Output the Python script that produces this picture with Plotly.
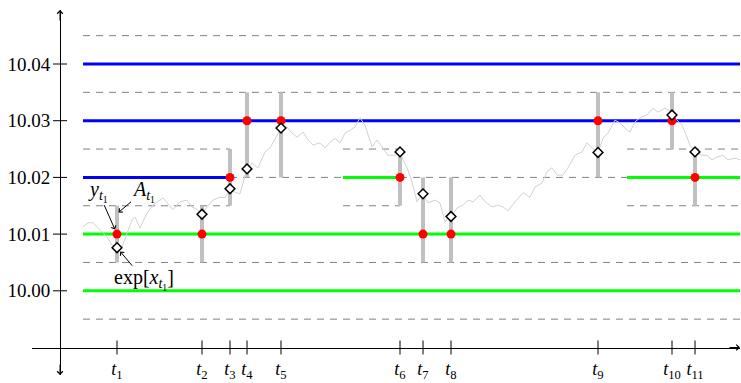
import plotly.graph_objects as go

# ---------------------------------------------------------------
# Data
# ---------------------------------------------------------------
# observation times t_1 ... t_11
t_obs = [5.7, 14.2, 17.0, 18.7, 22.1, 34.0, 36.3, 39.1, 53.8, 61.2, 63.5]
t_labels = [f"<i>t</i><sub>{k}</sub>" for k in range(1, 12)]

# observed (rounded) prices y_t
y_obs = [10.01, 10.01, 10.02, 10.03, 10.03, 10.02, 10.01, 10.01, 10.03, 10.03, 10.02]
# efficient price exp[x_t] at the observation times
exp_x = [10.0076, 10.0135, 10.0180, 10.0215, 10.0287, 10.0245, 10.0171, 10.0131,
         10.0244, 10.0310, 10.0245]
# uncertainty zones A_t (lower / upper bounds)
a_low = [10.005, 10.005, 10.015, 10.020, 10.020, 10.015, 10.005, 10.005, 10.020, 10.025, 10.015]
a_high = [10.015, 10.015, 10.025, 10.035, 10.035, 10.025, 10.020, 10.020, 10.035, 10.035, 10.025]

# efficient price path
walk_t = [2.3, 2.8, 3.3, 4.0, 4.7, 5.2, 5.7, 6.2, 6.7, 7.2, 7.5, 8.0, 8.7, 9.3, 10.3, 10.7,
          11.3, 12.0, 12.7, 13.2, 13.7, 14.2, 14.7, 15.3, 16.0, 16.5, 17.0, 17.5, 18.0,
          18.7, 19.2, 19.8, 20.5, 21.0, 21.5, 22.1, 22.7, 23.2, 23.7, 24.3, 24.8, 25.3,
          26.0, 26.5, 27.0, 27.5, 28.0, 28.5, 29.0, 29.5, 30.0, 30.5, 31.2, 31.7, 32.2,
          32.8, 33.5, 34.0, 34.3, 34.7, 35.2, 35.7, 36.0, 36.3, 36.8, 37.5, 38.0, 38.5,
          38.8, 39.1, 39.7, 40.3, 40.8, 41.3, 42.0, 42.5, 43.2, 43.8, 44.3, 44.8, 45.5,
          46.3, 47.0, 47.5, 48.2, 48.7, 49.2, 49.7, 50.3, 50.8, 51.5, 52.2, 52.7, 53.2,
          53.8, 54.3, 54.8, 55.5, 56.0, 56.5, 57.0, 57.5, 58.0, 58.7, 59.3, 59.8, 60.5,
          61.0, 61.2, 61.7, 62.2, 62.7, 63.0, 63.5, 64.2, 64.7, 65.2, 65.7, 66.3, 66.8,
          67.5, 68.0]
walk_v = [10.0113, 10.0120, 10.0120, 10.0107, 10.0095, 10.0081, 10.0076, 10.0077, 10.0102,
          10.0125, 10.0130, 10.0111, 10.0137, 10.0151, 10.0164, 10.0155, 10.0143, 10.0157,
          10.0160, 10.0148, 10.0144, 10.0135, 10.0148, 10.0160, 10.0165, 10.0164, 10.0180,
          10.0174, 10.0171, 10.0215, 10.0225, 10.0217, 10.0245, 10.0252, 10.0269, 10.0287,
          10.0289, 10.0278, 10.0271, 10.0280, 10.0266, 10.0257, 10.0261, 10.0252, 10.0262,
          10.0269, 10.0261, 10.0278, 10.0283, 10.0289, 10.0305, 10.0292, 10.0254, 10.0266,
          10.0254, 10.0239, 10.0239, 10.0245, 10.0231, 10.0217, 10.0192, 10.0157, 10.0165,
          10.0171, 10.0155, 10.0160, 10.0155, 10.0121, 10.0129, 10.0131, 10.0146, 10.0151,
          10.0160, 10.0157, 10.0169, 10.0157, 10.0148, 10.0151, 10.0148, 10.0141, 10.0157,
          10.0173, 10.0165, 10.0183, 10.0190, 10.0210, 10.0217, 10.0204, 10.0204, 10.0217,
          10.0239, 10.0245, 10.0261, 10.0252, 10.0244, 10.0269, 10.0278, 10.0301, 10.0296,
          10.0287, 10.0280, 10.0298, 10.0305, 10.0310, 10.0322, 10.0315, 10.0322, 10.0317,
          10.0310, 10.0301, 10.0292, 10.0271, 10.0257, 10.0245, 10.0239, 10.0239, 10.0231,
          10.0236, 10.0239, 10.0231, 10.0234, 10.0231]

price_ticks = [10.00, 10.01, 10.02, 10.03, 10.04]
axis_level = 9.99

T_START, T_END = 2.3, 68.0
# price grid: (level, from, to)
dashed_segments = [
    (10.045, T_START, T_END), (10.035, T_START, T_END),
    (10.005, T_START, T_END), (9.995, T_START, T_END),
    (10.025, T_START, 17.0), (10.025, 28.3, 34.0), (10.025, 56.7, T_END),
    (10.015, T_START, 17.0), (10.015, 28.3, 34.0), (10.015, 56.7, T_END),
    (10.020, 17.0, 28.3), (10.020, 34.0, 56.7),
]
blue_segments = [(10.04, T_START, T_END), (10.03, T_START, T_END), (10.02, T_START, 17.0)]
green_segments = [(10.01, T_START, T_END), (10.00, T_START, T_END),
                  (10.02, 28.3, 34.0), (10.02, 56.7, T_END)]


def horizontal(segments):
    xs, ys = [], []
    for lvl, a, b in segments:
        xs += [a, b, None]
        ys += [lvl, lvl, None]
    return xs, ys


def vertical(ts, lo, hi):
    xs, ys = [], []
    for t, a, b in zip(ts, lo, hi):
        xs += [t, t, None]
        ys += [a, b, None]
    return xs, ys


SERIF = "Liberation Serif"

fig = go.Figure()

dx, dy = horizontal(dashed_segments)
fig.add_trace(go.Scatter(x=dx, y=dy, mode="lines",
                         line=dict(color="#828282", width=1, dash="7px,6px")))

bx, by = horizontal(blue_segments)
fig.add_trace(go.Scatter(x=bx, y=by, mode="lines", line=dict(color="#0000ff", width=3)))

gx, gy = horizontal(green_segments)
fig.add_trace(go.Scatter(x=gx, y=gy, mode="lines", line=dict(color="#00ff00", width=3)))

ax_, ay_ = vertical(t_obs, a_low, a_high)
fig.add_trace(go.Scatter(x=ax_, y=ay_, mode="lines", line=dict(color="#c0c0c0", width=4)))

fig.add_trace(go.Scatter(x=walk_t, y=walk_v, mode="lines",
                         line=dict(color="#d2d2d2", width=1)))

fig.add_trace(go.Scatter(x=t_obs, y=y_obs, mode="markers",
                         marker=dict(color="#ff0000", size=9, line=dict(width=0))))

fig.add_trace(go.Scatter(x=t_obs, y=exp_x, mode="markers",
                         marker=dict(symbol="diamond", color="white", size=7.5,
                                     line=dict(color="black", width=1.5))))

# tick marks crossing the axes
fig.add_trace(go.Scatter(x=t_obs, y=[axis_level] * len(t_obs), mode="markers",
                         marker=dict(symbol="line-ns", size=10,
                                     line=dict(color="black", width=1))))
fig.add_trace(go.Scatter(x=[0] * len(price_ticks), y=price_ticks, mode="markers",
                         marker=dict(symbol="line-ew", size=10,
                                     line=dict(color="black", width=1))))

# axis geometry
W, H = 741, 383
x_range = [-2.8, 68.0]
x_dom = [32 / W, 740 / W]
y_range = [9.98515, 10.049524]
y_dom = [8 / H, 373 / H]

x_pos = y_dom[0] + (axis_level - y_range[0]) / (y_range[1] - y_range[0]) * (y_dom[1] - y_dom[0])
y_pos = x_dom[0] + (0 - x_range[0]) / (x_range[1] - x_range[0]) * (x_dom[1] - x_dom[0])

fig.update_layout(
    width=W, height=H,
    margin=dict(l=0, r=0, t=0, b=0, pad=0, autoexpand=False),
    paper_bgcolor="white", plot_bgcolor="white",
    showlegend=False,
    font=dict(family=SERIF, color="black"),
    xaxis=dict(range=x_range, domain=x_dom, anchor="free", position=x_pos,
               automargin=False,
               showgrid=False, zeroline=False, showline=True, linecolor="black",
               linewidth=1, ticks="", tickvals=t_obs, ticktext=t_labels,
               tickangle=0, tickfont=dict(family=SERIF, size=18),
               ticklabelstandoff=5),
    yaxis=dict(range=y_range, domain=y_dom, anchor="free", position=y_pos,
               automargin=False,
               showgrid=False, zeroline=False, showline=True, linecolor="black",
               linewidth=1, ticks="", tickvals=price_ticks,
               ticktext=[f"{v:.2f}" for v in price_ticks],
               tickfont=dict(family=SERIF, size=19), ticklabelstandoff=6),
)

# arrowheads at the ends of the axes
arrow = dict(showarrow=True, arrowhead=4, arrowsize=1.1, arrowwidth=1,
             arrowcolor="black", text="")
fig.add_annotation(x=y_pos, y=y_dom[1], xref="paper", yref="paper", ax=0, ay=12, **arrow)
fig.add_annotation(x=y_pos, y=y_dom[0], xref="paper", yref="paper", ax=0, ay=-12, **arrow)
fig.add_annotation(x=x_dom[1], y=x_pos, xref="paper", yref="paper", ax=-12, ay=0, **arrow)

# labels for the first observation
lab = dict(showarrow=True, arrowhead=4, arrowsize=1.0, arrowwidth=1,
           arrowcolor="black", font=dict(family=SERIF, size=20), borderpad=0)
fig.add_annotation(x=t_obs[0], y=y_obs[0], ax=-19, ay=-43, standoff=5,
                   text="<i>y</i><sub><i>t</i><sub>1</sub></sub>", **lab)
fig.add_annotation(x=t_obs[0], y=(a_low[0] + a_high[0]) / 2 + 0.0036, ax=26, ay=-22,
                   standoff=2, text="<i>A</i><sub><i>t</i><sub>1</sub></sub>", **lab)
fig.add_annotation(x=t_obs[0], y=exp_x[0], ax=27, ay=32, standoff=5,
                   text="exp[<i>x</i><sub><i>t</i><sub>1</sub></sub>]", **lab)

fig.write_html("out.html")
